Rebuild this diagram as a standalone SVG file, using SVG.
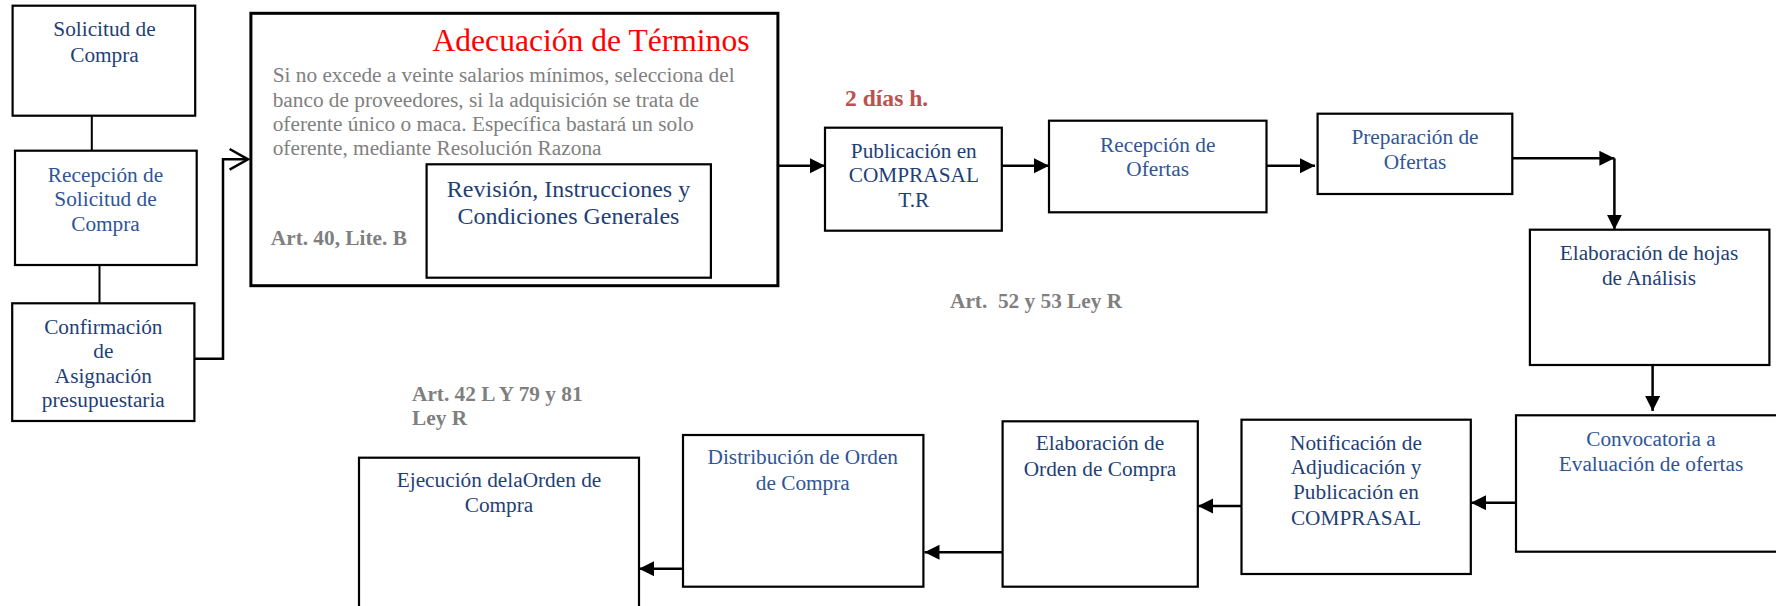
<svg xmlns="http://www.w3.org/2000/svg" width="1776" height="606" viewBox="0 0 1776 606">
<style>
.box{fill:#fff;stroke:#000;stroke-width:2.2}
.big{fill:#fff;stroke:#000;stroke-width:3}
.t{font-family:"Liberation Serif","Times New Roman",serif;font-size:21.3px;text-anchor:middle}
.dk{fill:#1F3F77}
.lt{fill:#2F5597}
.gray{font-family:"Liberation Serif","Times New Roman",serif;font-size:21.3px;fill:#808080}
.lbl{font-family:"Liberation Serif","Times New Roman",serif;font-size:21.3px;font-weight:bold;fill:#7F7F7F}
.con{fill:none;stroke:#000;stroke-width:2.5}
.thin{fill:none;stroke:#000;stroke-width:2}
</style>
<defs>
<marker id="ah" markerUnits="userSpaceOnUse" markerWidth="16" markerHeight="16" refX="15" refY="7.5" orient="auto">
<path d="M0,0 L15,7.5 L0,15 z" fill="#000"/>
</marker>
</defs>
<rect width="1776" height="606" fill="#fff"/>

<g id="connectors">
<line class="thin" x1="91.8" y1="115.7" x2="91.8" y2="150.7"/>
<line class="thin" x1="99.5" y1="265" x2="99.5" y2="303.3"/>
<polyline class="con" points="194.4,358.7 223,358.7 223,159.3 247,159.3"/>
<polyline class="con" points="229.6,149 248,159.3 229.6,169.6"/>
<line class="con" x1="778" y1="165.7" x2="825" y2="165.7" marker-end="url(#ah)"/>
<line class="con" x1="1002" y1="165.7" x2="1049" y2="165.7" marker-end="url(#ah)"/>
<line class="con" x1="1266.5" y1="165.7" x2="1315" y2="165.7" marker-end="url(#ah)"/>
<line class="con" x1="1512.3" y1="158.3" x2="1614.4" y2="158.3" marker-end="url(#ah)"/>
<line class="con" x1="1614.4" y1="158.3" x2="1614.4" y2="229.7" marker-end="url(#ah)"/>
<line class="con" x1="1652.6" y1="365" x2="1652.6" y2="411" marker-end="url(#ah)"/>
<line class="con" x1="1516" y1="502.7" x2="1471" y2="502.7" marker-end="url(#ah)"/>
<line class="con" x1="1241.5" y1="506" x2="1198" y2="506" marker-end="url(#ah)"/>
<line class="con" x1="1002.6" y1="552.3" x2="924.5" y2="552.3" marker-end="url(#ah)"/>
<line class="con" x1="683" y1="568.7" x2="639" y2="568.7" marker-end="url(#ah)"/>
</g>

<g id="n-solicitud">
<rect class="box" x="12.6" y="5.7" width="182.6" height="110"/>
<text class="t dk" x="104.5" y="36">Solicitud de</text>
<text class="t dk" x="104.5" y="61.7">Compra</text>
</g>

<g id="n-recepcion-solicitud">
<rect class="box" x="15" y="150.7" width="181.7" height="114.3"/>
<text class="t lt" x="105.5" y="181.7">Recepción de</text>
<text class="t lt" x="105.5" y="206">Solicitud de</text>
<text class="t lt" x="105.5" y="230.7">Compra</text>
</g>

<g id="n-confirmacion">
<rect class="box" x="12.2" y="303.3" width="182.2" height="117.7"/>
<text class="t dk" x="103.3" y="334">Confirmación</text>
<text class="t dk" x="103.3" y="358.3">de</text>
<text class="t dk" x="103.3" y="382.7">Asignación</text>
<text class="t dk" x="103.3" y="407">presupuestaria</text>
</g>

<g id="n-adecuacion">
<rect class="big" x="250.9" y="13.3" width="527" height="272.4"/>
<text x="591" y="50.7" style="font-family:'Liberation Serif','Times New Roman',serif;font-size:31.6px;fill:#FF0000;text-anchor:middle">Adecuación de Términos</text>
<text class="gray" x="272.7" y="81.7">Si no excede a veinte salarios mínimos, selecciona del</text>
<text class="gray" x="272.7" y="106.7">banco de proveedores, si la adquisición se trata de</text>
<text class="gray" x="272.7" y="130.7">oferente único o maca. Específica bastará un solo</text>
<text class="gray" x="272.7" y="155.3">oferente, mediante Resolución Razona</text>
<text class="lbl" x="270.8" y="245">Art. 40, Lite. B</text>
</g>

<g id="n-revision">
<rect class="box" x="426.6" y="164.3" width="284.3" height="113.4"/>
<text class="t dk" x="568.5" y="196.7" style="font-size:24px">Revisión, Instrucciones y</text>
<text class="t dk" x="568.5" y="224.3" style="font-size:24px">Condiciones Generales</text>
</g>

<text id="lbl-2dias" x="845" y="106" style="font-family:'Liberation Serif','Times New Roman',serif;font-size:23.6px;font-weight:bold;fill:#C0504D">2 días h.</text>

<g id="n-publicacion">
<rect class="box" x="825" y="127.7" width="176.8" height="103"/>
<text class="t dk" x="913.8" y="158">Publicación en</text>
<text class="t dk" x="913.8" y="182">COMPRASAL</text>
<text class="t dk" x="913.8" y="207.3">T.R</text>
</g>

<g id="n-recepcion-ofertas">
<rect class="box" x="1049" y="120.7" width="217.5" height="91.6"/>
<text class="t lt" x="1157.7" y="151.7">Recepción de</text>
<text class="t lt" x="1157.7" y="175.7">Ofertas</text>
</g>

<g id="n-preparacion">
<rect class="box" x="1317.6" y="113.7" width="194.7" height="80.3"/>
<text class="t lt" x="1415" y="144">Preparación de</text>
<text class="t lt" x="1415" y="169">Ofertas</text>
</g>

<text id="lbl-art52" class="lbl" x="950" y="308.3" style="white-space:pre">Art.  52 y 53 Ley R</text>

<g id="n-hojas">
<rect class="box" x="1529.9" y="229.7" width="239.5" height="135.3"/>
<text class="t dk" x="1649" y="260">Elaboración de hojas</text>
<text class="t dk" x="1649" y="285">de Análisis</text>
</g>

<g id="n-convocatoria">
<rect class="box" x="1516" y="415.3" width="280" height="136.4"/>
<text class="t lt" x="1651" y="445.7">Convocatoria a</text>
<text class="t lt" x="1651" y="470.7">Evaluación de ofertas</text>
</g>

<g id="n-notificacion">
<rect class="box" x="1241.5" y="419.7" width="229.3" height="154.3"/>
<text class="t dk" x="1356" y="450">Notificación de</text>
<text class="t dk" x="1356" y="474">Adjudicación y</text>
<text class="t dk" x="1356" y="499">Publicación en</text>
<text class="t dk" x="1356" y="525">COMPRASAL</text>
</g>

<g id="n-elab-orden">
<rect class="box" x="1002.6" y="421.3" width="195.2" height="165.4"/>
<text class="t dk" x="1100" y="450">Elaboración de</text>
<text class="t dk" x="1100" y="475.7">Orden de Compra</text>
</g>

<g id="n-distribucion">
<rect class="box" x="683" y="435" width="240.4" height="151.7"/>
<text class="t lt" x="802.8" y="464.3">Distribución de Orden</text>
<text class="t lt" x="802.8" y="490">de Compra</text>
</g>

<text id="lbl-art42" class="lbl"><tspan x="412" y="400.7">Art. 42 L Y 79 y 81</tspan><tspan x="412" y="425">Ley R</tspan></text>

<g id="n-ejecucion">
<rect class="box" x="359" y="457.7" width="280" height="170"/>
<text class="t dk" x="499" y="486.7">Ejecución delaOrden de</text>
<text class="t dk" x="499" y="512.3">Compra</text>
</g>
</svg>
